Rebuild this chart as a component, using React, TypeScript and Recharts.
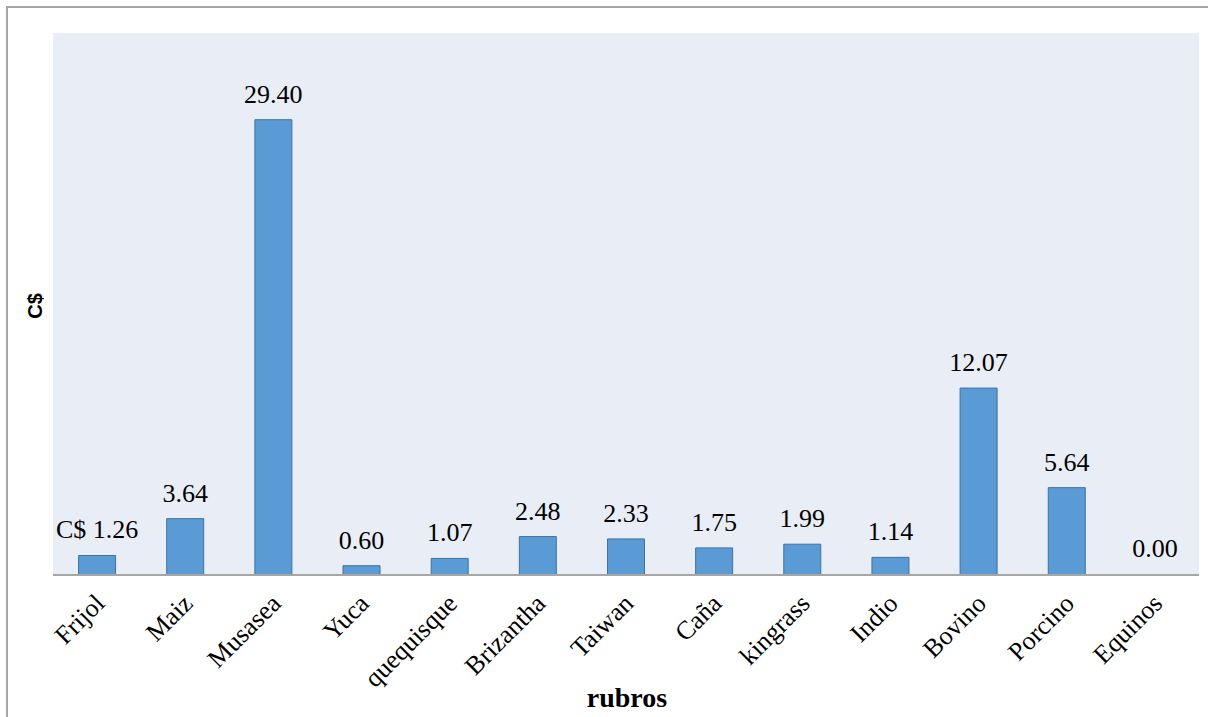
import { BarChart, Bar, XAxis, YAxis, CartesianGrid, LabelList, Rectangle } from 'recharts';

const rubros = [
  'Frijol',
  'Maiz',
  'Musasea',
  'Yuca',
  'quequisque',
  'Brizantha',
  'Taiwan',
  'Caña',
  'kingrass',
  'Indio',
  'Bovino',
  'Porcino',
  'Equinos',
];

const valores = [1.26, 3.64, 29.4, 0.6, 1.07, 2.48, 2.33, 1.75, 1.99, 1.14, 12.07, 5.64, 0.0];

const data = rubros.map((rubro, i) => ({ rubro, valor: valores[i] }));

const serif = '"Liberation Serif", "Times New Roman", serif';

// first label carries the currency prefix, the rest are plain numbers
const formatLabel = (value: number, index: number) =>
  index === 0 ? `C$ ${value.toFixed(2)}` : value.toFixed(2);

const RotatedTick = (props: any) => {
  const { x, y, payload } = props;
  return (
    <g transform={`translate(${x + 9},${y + 22})`}>
      <text
        textAnchor="end"
        transform="rotate(-45)"
        style={{ fontFamily: serif, fontSize: 26 }}
        fill="#000"
      >
        {payload.value}
      </text>
    </g>
  );
};

// zero values keep their slot (so the label still shows) but draw no rectangle
const BarShape = (props: any) => {
  if (!props.payload || props.payload.valor === 0) return <g />;
  return <Rectangle {...props} />;
};

export default function App() {
  return (
    <div style={{ position: 'absolute', left: 0, top: 0, width: 1208, height: 717, background: '#fff' }}>
      <div
        style={{
          position: 'absolute',
          left: 6,
          top: 6,
          width: 1202,
          height: 711,
          borderLeft: '2px solid #A6A6A6',
          borderTop: '2px solid #A6A6A6',
          boxSizing: 'border-box',
        }}
      />
      <BarChart
        width={1208}
        height={717}
        data={data}
        margin={{ top: 33, right: 9, left: 53, bottom: 0 }}
        barCategoryGap="29%"
        style={{ position: 'absolute', left: 0, top: 0 }}
      >
        <CartesianGrid fill="#E9EDF6" horizontal={false} vertical={false} />
        <XAxis
          dataKey="rubro"
          height={142}
          interval={0}
          tickLine={false}
          axisLine={{ stroke: '#A6A6A6', strokeWidth: 2 }}
          tick={<RotatedTick />}
        />
        <YAxis hide domain={[0, 35]} />
        <Bar
          dataKey="valor"
          fill="#5B9BD5"
          stroke="#41719C"
          strokeWidth={1}
          minPointSize={1}
          shape={<BarShape />}
          isAnimationActive={false}
        >
          <LabelList
            dataKey="valor"
            position="top"
            content={(props: any) => {
              const { x, y, width, value, index } = props;
              return (
                <text
                  x={x + width / 2}
                  y={y - 17}
                  textAnchor="middle"
                  style={{ fontFamily: serif, fontSize: 26 }}
                  fill="#000"
                >
                  {formatLabel(Number(value), index)}
                </text>
              );
            }}
          />
        </Bar>
      </BarChart>
      <div
        style={{
          position: 'absolute',
          left: 0,
          width: 1254,
          top: 682,
          textAlign: 'center',
          fontFamily: serif,
          fontWeight: 'bold',
          fontSize: 28,
          lineHeight: '32px',
          color: '#000',
        }}
      >
        rubros
      </div>
      <div
        style={{
          position: 'absolute',
          left: 35,
          top: 306,
          transform: 'translate(-50%, -50%) rotate(-90deg)',
          fontFamily: '"Liberation Sans", Arial, sans-serif',
          fontWeight: 'bold',
          fontSize: 20,
          color: '#000',
        }}
      >
        C$
      </div>
    </div>
  );
}
